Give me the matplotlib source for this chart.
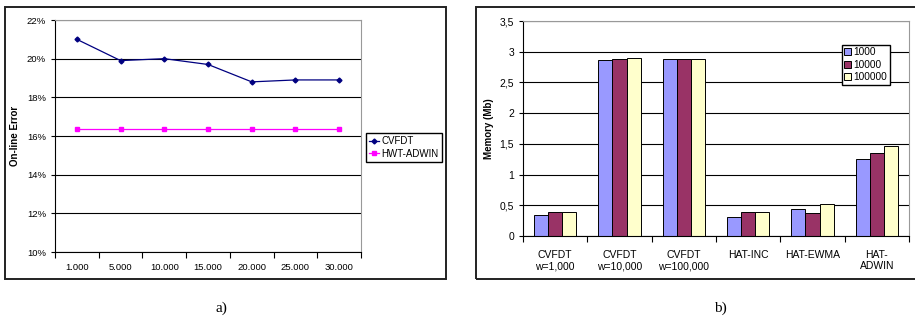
import matplotlib.pyplot as plt
from matplotlib.patches import Rectangle
from matplotlib.ticker import FixedLocator, FuncFormatter

# ------------------------------------------------------------
# Data
# ------------------------------------------------------------
window_labels = ["1.000", "5.000", "10.000", "15.000", "20.000", "25.000", "30.000"]
cvfdt_error = [21.0, 19.9, 20.0, 19.7, 18.8, 18.9, 18.9]
hwt_adwin_error = [16.35, 16.35, 16.35, 16.35, 16.35, 16.35, 16.35]

methods = ["CVFDT\nw=1,000", "CVFDT\nw=10,000", "CVFDT\nw=100,000",
           "HAT-INC", "HAT-EWMA", "HAT-\nADWIN"]
mem_1000 = [0.35, 2.87, 2.88, 0.31, 0.44, 1.26]
mem_10000 = [0.385, 2.88, 2.88, 0.39, 0.37, 1.35]
mem_100000 = [0.385, 2.90, 2.88, 0.385, 0.52, 1.47]
series_names = ["1000", "10000", "100000"]
bar_colors = ["#9999FF", "#993366", "#FFFFCC"]

W, H = 915, 322


def px_axes(fig, x0, y0, x1, y1):
    """Axes from pixel box (top-left origin)."""
    return fig.add_axes([x0 / W, 1 - y1 / H, (x1 - x0) / W, (y1 - y0) / H])


def frame(fig, x0, y0, x1, y1):
    fig.patches.append(Rectangle((x0 / W, 1 - y1 / H), (x1 - x0) / W, (y1 - y0) / H,
                                 transform=fig.transFigure, fill=False,
                                 edgecolor="#222222", linewidth=1.4))


def style_axes(ax):
    for s in ["top", "right"]:
        ax.spines[s].set_color("#999999")
    for s in ["left", "bottom"]:
        ax.spines[s].set_color("black")
    ax.yaxis.grid(True, color="black", linewidth=0.8)
    ax.set_axisbelow(True)
    ax.tick_params(axis="y", direction="out", length=3, width=0.8)


fig = plt.figure(figsize=(W / 100, H / 100), dpi=100)
plt.rcParams["font.family"] = ["Liberation Sans", "DejaVu Sans"]

# ------------------------------------------------------------
# a) On-line error
# ------------------------------------------------------------
frame(fig, 5, 7, 446, 279)
ax1 = px_axes(fig, 55, 20, 361, 252)
style_axes(ax1)
x = list(range(len(window_labels)))
ax1.plot(x, cvfdt_error, color="#000080", marker="D", markersize=2.5,
         linewidth=0.9, label="CVFDT")
ax1.plot(x, hwt_adwin_error, color="#FF00FF", marker="s", markersize=3,
         linewidth=0.9, label="HWT-ADWIN")
ax1.set_xlim(-0.5, len(x) - 0.5)
ax1.set_ylim(10, 22)
ax1.set_yticks(range(10, 23, 2))
ax1.yaxis.set_major_formatter(FuncFormatter(lambda v, p: f"{v:.0f}%"))
ax1.set_xticks(x)
ax1.set_xticklabels(window_labels, fontsize=6.8)
ax1.xaxis.set_minor_locator(FixedLocator([i - 0.5 for i in range(len(x) + 1)]))
ax1.tick_params(axis="x", which="major", length=0, pad=8)
ax1.tick_params(axis="x", which="minor", length=4, width=0.8, direction="out")
ax1.tick_params(axis="y", labelsize=6.8)
ax1.set_ylabel("On-line Error", fontsize=7, fontweight="bold", labelpad=5)
ax1.legend(loc="center left", bbox_to_anchor=(1.015, 0.45), fontsize=7,
           frameon=True, fancybox=False, edgecolor="black", framealpha=1,
           handlelength=1.1, handletextpad=0.25, borderpad=0.3,
           labelspacing=0.25, borderaxespad=0)

# ------------------------------------------------------------
# b) Memory
# ------------------------------------------------------------
frame(fig, 476, 7, 920, 279)
ax2 = px_axes(fig, 523, 21, 909, 236)
style_axes(ax2)
gx = list(range(len(methods)))
bw = 0.22
for k, (vals, name, col) in enumerate(zip([mem_1000, mem_10000, mem_100000],
                                           series_names, bar_colors)):
    ax2.bar([g + (k - 1) * bw for g in gx], vals, width=bw, color=col,
            edgecolor="black", linewidth=0.7, label=name)
ax2.set_xlim(-0.5, len(gx) - 0.5)
ax2.set_ylim(0, 3.5)
ax2.set_yticks([0, 0.5, 1, 1.5, 2, 2.5, 3, 3.5])
ax2.yaxis.set_major_formatter(
    FuncFormatter(lambda v, p: (f"{v:g}").replace(".", ",")))
ax2.set_xticks(gx)
ax2.set_xticklabels(methods, fontsize=7.5, linespacing=1.15)
ax2.xaxis.set_minor_locator(FixedLocator([i - 0.5 for i in range(len(gx) + 1)]))
ax2.tick_params(axis="x", which="major", length=0, pad=10)
ax2.tick_params(axis="x", which="minor", length=4, width=0.8, direction="out")
ax2.tick_params(axis="y", labelsize=7.5)
ax2.set_ylabel("Memory (Mb)", fontsize=7, fontweight="bold", labelpad=4)
ax2.legend(loc="upper right", bbox_to_anchor=(0.95, 0.89), fontsize=7.3,
           frameon=True, fancybox=False, edgecolor="black", framealpha=1,
           handlelength=0.7, handleheight=0.7, handletextpad=0.2,
           borderpad=0.25, labelspacing=0.25, borderaxespad=0)

# captions
fig.text(221 / W, 1 - 308 / H, "a)", ha="center", va="center", fontsize=11,
         family="Liberation Serif")
fig.text(720 / W, 1 - 308 / H, "b)", ha="center", va="center", fontsize=11,
         family="Liberation Serif")

fig.savefig("out.png", dpi=100)
